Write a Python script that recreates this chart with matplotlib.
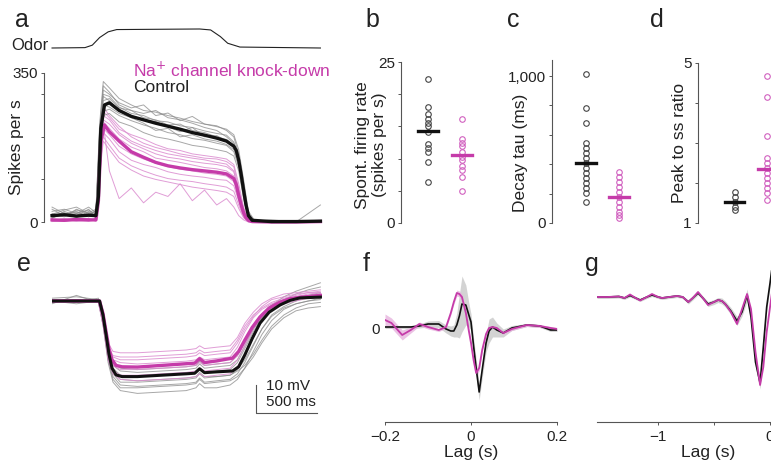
import matplotlib
matplotlib.use('Agg')
import matplotlib.pyplot as plt
import numpy as np

plt.rcParams['font.family'] = ['Liberation Sans', 'DejaVu Sans']

# ---------------- data ----------------
# panel a: odor command and firing rates (time in s)
t_odor = [0, 0.27, 0.33, 0.39, 0.46, 0.53, 1.21, 1.30, 1.38, 1.44, 1.54, 2.2]
odor = [0, 0.02, 0.15, 0.55, 0.85, 0.97, 1.0, 0.95, 0.6, 0.25, 0.05, 0]

t_rate_mean = [0, 0.1, 0.2, 0.3, 0.36, 0.38, 0.40, 0.43, 0.47, 0.55, 0.65, 0.75, 0.85,
               0.95, 1.05, 1.15, 1.25, 1.35, 1.43, 1.49, 1.51, 1.53, 1.55, 1.57, 1.59,
               1.61, 1.64, 1.8, 2.0, 2.2]
ctrl_rate_mean = [15, 17, 14, 16, 15, 60, 220, 275, 280, 262, 248, 240, 232,
                  225, 218, 210, 204, 197, 190, 178, 168, 145, 112, 75, 40,
                  15, 4, 1, 1, 2]
kd_rate_mean = [5, 4, 6, 5, 5, 50, 190, 228, 212, 190, 165, 152, 140,
                132, 127, 123, 120, 117, 113, 102, 88, 62, 40, 22, 10,
                4, 1, 0, 0, 1]

t_rate = [0, 0.1, 0.2, 0.3, 0.36, 0.39, 0.42, 0.47, 0.55, 0.65, 0.75, 0.85, 0.95,
          1.05, 1.15, 1.25, 1.35, 1.43, 1.49, 1.53, 1.57, 1.61, 1.66, 1.8, 2.0, 2.2]
ctrl_rate_traces = [
    [25, 30, 20, 35, 22, 230, 330, 315, 290, 275, 262, 258, 250, 244, 236, 230, 226, 215, 200, 160, 90, 20, 3, 2, 2, 0],
    [10, 18, 25, 12, 20, 200, 300, 295, 270, 255, 250, 238, 235, 226, 222, 214, 208, 204, 188, 150, 70, 10, 1, 0, 3, 0],
    [30, 15, 28, 22, 30, 180, 285, 290, 268, 262, 255, 262, 245, 240, 232, 222, 215, 200, 185, 145, 80, 18, 2, 5, 0, 0],
    [15, 22, 10, 25, 12, 210, 310, 300, 280, 268, 275, 250, 256, 238, 248, 230, 224, 218, 205, 170, 100, 25, 4, 0, 0, 0],
    [20, 12, 30, 18, 25, 170, 260, 265, 250, 238, 228, 220, 210, 205, 196, 192, 185, 180, 165, 130, 60, 10, 0, 2, 0, 0],
    [8, 25, 15, 30, 10, 190, 275, 270, 255, 245, 232, 215, 220, 200, 205, 195, 190, 182, 170, 140, 75, 12, 1, 0, 0, 40],
    [35, 20, 22, 15, 28, 220, 320, 305, 275, 262, 245, 240, 228, 230, 215, 210, 200, 194, 180, 150, 85, 15, 2, 3, 0, 0],
    [18, 28, 35, 20, 15, 160, 250, 255, 235, 225, 210, 200, 195, 188, 180, 176, 170, 165, 155, 120, 55, 8, 0, 0, 0, 0],
    [12, 16, 20, 28, 18, 205, 295, 285, 262, 250, 240, 236, 224, 212, 222, 200, 203, 190, 178, 152, 80, 14, 2, 0, 0, 0],
]
kd_rate_traces = [
    [2, 5, 3, 8, 4, 170, 270, 250, 225, 200, 185, 175, 168, 160, 155, 150, 148, 142, 130, 80, 30, 5, 0, 0, 0, 0],
    [5, 2, 6, 3, 7, 160, 250, 240, 210, 190, 178, 168, 160, 155, 150, 146, 140, 136, 120, 70, 25, 3, 0, 0, 0, 0],
    [3, 8, 4, 2, 5, 150, 235, 220, 195, 176, 165, 150, 145, 140, 134, 128, 125, 120, 108, 65, 22, 2, 0, 0, 0, 0],
    [6, 3, 5, 7, 2, 140, 220, 205, 178, 160, 148, 138, 130, 124, 120, 115, 112, 108, 95, 55, 18, 2, 0, 0, 0, 0],
    [1, 4, 7, 3, 6, 130, 210, 195, 165, 145, 135, 128, 118, 112, 108, 105, 100, 98, 85, 50, 15, 1, 0, 0, 0, 0],
    [4, 6, 2, 5, 3, 155, 240, 230, 205, 185, 172, 160, 152, 148, 142, 138, 135, 130, 118, 75, 30, 4, 0, 0, 0, 0],
    [2, 3, 5, 4, 8, 120, 200, 180, 150, 132, 120, 110, 102, 98, 95, 90, 86, 82, 72, 40, 12, 1, 0, 0, 0, 0],
    [5, 7, 3, 6, 4, 110, 190, 170, 140, 122, 108, 100, 94, 88, 82, 78, 74, 70, 60, 32, 10, 0, 0, 0, 0, 0],
    [3, 2, 4, 6, 3, 140, 230, 120, 55, 80, 45, 70, 60, 90, 50, 75, 40, 55, 35, 15, 5, 0, 0, 0, 0, 0],
    [4, 5, 2, 3, 6, 165, 260, 245, 218, 205, 195, 182, 172, 168, 160, 156, 152, 148, 135, 90, 35, 6, 0, 0, 0, 0],
]

# panels b-d: per-cell values
spont_ctrl = [22.3, 18.0, 16.9, 16.1, 15.6, 15.0, 14.2, 12.2, 11.7, 11.1, 9.5, 6.4]
spont_kd = [16.1, 13.0, 12.5, 11.9, 11.1, 10.3, 9.8, 8.8, 8.3, 7.2, 4.9]
spont_means = [14.3, 10.6]
tau_ctrl = [1014, 782, 680, 544, 510, 476, 442, 408, 374, 340, 306, 272, 238, 204, 143]
tau_kd = [347, 313, 279, 245, 211, 177, 143, 109, 75, 54, 34]
tau_means = [408, 177]
ratio_ctrl = [1.78, 1.65, 1.53, 1.40, 1.33]
ratio_kd = [4.68, 4.15, 3.18, 2.63, 2.50, 2.38, 2.25, 2.13, 2.00, 1.88, 1.75, 1.58]
ratio_means = [1.53, 2.35]

# panel e: membrane potential (mV, relative to baseline)
t_vm_mean = [0, 0.2, 0.39, 0.418, 0.443, 0.467, 0.492, 0.525, 0.574, 0.7, 0.9, 1.1, 1.17,
             1.21, 1.25, 1.35, 1.48, 1.53, 1.58, 1.64, 1.705, 1.78, 1.87, 1.95, 2.03, 2.2]
ctrl_vm_mean = [0, 0, 0, -5, -12, -19, -24, -26.4, -27, -27, -26.5, -26, -25.8,
                -24.2, -25.6, -25.3, -25, -23.5, -19.3, -13.5, -7.9, -4, -1.4, 0.2, 1.1, 1.4]
kd_vm_mean = [0, 0, 0, -4.5, -11, -17, -21, -23, -23.5, -23.6, -23, -22.4, -22.2,
              -20.6, -22, -21.4, -20.4, -18, -14, -9.5, -5.7, -2.5, -0.4, 0.8, 1.3, 2]

t_vm = [0, 0.2, 0.38, 0.42, 0.46, 0.5, 0.56, 0.7, 0.9, 1.1, 1.18, 1.21, 1.25,
        1.35, 1.46, 1.52, 1.58, 1.65, 1.72, 1.8, 1.9, 2.0, 2.1, 2.2]
ctrl_vm_traces = [
    [0, 0.5, 0, -9, -22, -29, -32, -33, -32.5, -32, -31, -29.5, -31, -31, -30, -28, -24, -18, -12, -7, -3, -1, 0, 0.5],
    [1, 1.5, 0.5, -7, -20, -27, -30, -30.5, -30, -29.5, -29, -27.5, -29, -28.5, -28, -26, -22, -16, -10, -5, -2, 0, 1.5, 2.5],
    [-0.5, 0, -0.5, -8, -19, -25, -28, -28.5, -28, -27.5, -27, -25.5, -27, -27, -26.5, -24.5, -21, -15.5, -10, -5.5, -2.5, -1, 0, 1],
    [0, -1, 0, -7, -18, -23, -25, -25.5, -25, -24.5, -24, -22.5, -24, -23.5, -23, -21, -16, -10, -5, -1.5, 1.5, 3.5, 5, 6.5],
    [0.5, 0, 0.5, -8, -20, -26, -29, -29, -28.5, -28, -27.5, -26, -27.5, -27, -26.5, -25, -23, -19, -14, -9, -5, -2.5, -1, -0.5],
    [-1, 2, -0.5, -6, -17, -22, -24, -24.5, -24, -23.5, -23, -21.5, -23, -22.5, -22, -19.5, -15, -10, -6, -3, -0.5, 1, 2, 3],
    [0, 0, 0, -9, -21, -28, -31, -31, -30.5, -30, -29.5, -28, -29.5, -29, -28.5, -27, -24, -20, -15, -10, -6, -3.5, -2.5, -2],
    [0.5, -0.5, 1, -7, -19, -24, -26.5, -27, -26.5, -26, -25.5, -24, -25.5, -25, -24.5, -22, -17, -11, -6, -2.5, 0.5, 2.5, 4, 5],
]
kd_vm_traces = [
    [0, 0, 0, -6, -15, -18, -18.5, -18.5, -18, -17.5, -17, -16, -17, -16.5, -16, -13, -8, -4, -1, 1, 2.5, 3, 3.5, 4],
    [0, 0.5, 0, -7, -17, -20, -21, -21, -20.5, -20, -19.5, -18.5, -19.5, -19, -18.5, -15, -10, -5.5, -2, 0.5, 1.5, 2.5, 3, 3],
    [0, -0.5, 0, -8, -19, -23, -24.5, -24.5, -24, -23.5, -23, -22, -23, -22.5, -22, -19.5, -15, -9, -4.5, -1.5, 0.5, 1.5, 2, 2.5],
    [0.5, 0, 0.5, -8, -20, -25, -26.5, -26.5, -26, -25.5, -25, -24, -25, -24.5, -24, -21, -16, -10, -5, -2, 0, 1, 1.5, 2],
    [0, 0, 0, -7, -17, -21, -22, -22.5, -22, -21.5, -21, -20, -21, -20.5, -20, -16.5, -11, -6, -3, -1, 0.5, 1.5, 2.5, 3],
    [0, 0, -0.5, -9, -21, -26, -28, -28.5, -28, -27.5, -27, -26, -27, -26.5, -26, -23.5, -19, -13, -7, -3, -1, 0, 1, 1.5],
    [0, 0.5, 0, -6, -16, -19.5, -20, -20, -19.5, -19, -18.5, -17.5, -18.5, -18, -17.5, -14, -9, -5, -2.5, -0.5, 1, 2, 3, 3.5],
]

# panel f: filters (arbitrary units) vs lag
lag_f = [-0.2, -0.185, -0.16, -0.14, -0.12, -0.1, -0.075, -0.058, -0.047, -0.04,
         -0.033, -0.027, -0.021, -0.012, -0.005, 0, 0.006, 0.012, 0.019, 0.026,
         0.035, 0.042, 0.05, 0.06, 0.075, 0.095, 0.13, 0.16, 0.185, 0.2]
ctrl_f = [0.1, 0.1, 0.1, 0.1, 0.2, 0.4, 0.4, -0.1, -0.3, -0.3,
          0.3, 1.2, 2.4, 2.3, 1.3, 0.6, -1.8, -4.0, -6.4, -4.2,
          -1.5, -0.3, 0.1, -0.2, -0.5, 0, 0.3, 0.2, -0.2, -0.2]
ctrl_f_sem = [0.15, 0.15, 0.15, 0.15, 0.2, 0.3, 0.35, 0.4, 0.5, 0.6,
              1.2, 2.2, 2.8, 2.0, 1.2, 0.8, 0.8, 0.9, 0.8, 0.8,
              0.9, 1.2, 1.0, 0.7, 0.4, 0.25, 0.15, 0.15, 0.15, 0.15]
kd_f = [0.8, 0.5, -0.7, -0.2, 0.4, 0.1, -0.2, 0.1, 1.5, 2.6,
        3.5, 3.4, 3.1, 1.5, -0.3, -1.5, -3.2, -4.5, -4.0, -2.2,
        -0.6, 0, 0.1, 0.0, -0.5, -0.1, 0.3, 0.2, 0, -0.1]
kd_f_sem = [0.6, 0.5, 0.5, 0.3, 0.2, 0.2, 0.15, 0.15, 0.2, 0.25,
            0.3, 0.3, 0.3, 0.3, 0.3, 0.3, 0.3, 0.3, 0.3, 0.2,
            0.2, 0.15, 0.15, 0.15, 0.15, 0.15, 0.15, 0.15, 0.15, 0.15]

# panel g
lag_g = [-1.545, -1.45, -1.35, -1.3, -1.25, -1.2, -1.16, -1.1, -1.054, -1.0,
         -0.964, -0.9, -0.83, -0.78, -0.73, -0.69, -0.643, -0.6, -0.554, -0.5,
         -0.464, -0.43, -0.4, -0.35, -0.295, -0.25, -0.205, -0.17, -0.13, -0.089,
         -0.06, -0.03, 0.0, 0.03, 0.06, 0.1, 0.2, 0.3, 0.45]
ctrl_g = [0, 0, 0.05, -0.1, 0.15, -0.1, -0.3, 0, 0.2, 0,
          -0.1, 0, 0.1, 0, -0.5, -0.1, 0.4, -0.1, -0.7, -0.5,
          -0.3, -0.4, -0.7, -1.4, -2.4, -1.5, 0.2, -2.0, -6.5, -8.6,
          -5, -1, 1.4, 4, 3, 1, 0, 0, 0]
ctrl_g_sem = [0.15, 0.15, 0.15, 0.15, 0.15, 0.15, 0.15, 0.15, 0.15, 0.15,
              0.15, 0.15, 0.15, 0.15, 0.2, 0.2, 0.2, 0.2, 0.25, 0.25,
              0.25, 0.3, 0.3, 0.35, 0.45, 0.4, 0.6, 0.4, 0.5, 0.6,
              0.5, 0.4, 0.4, 0.4, 0.3, 0.2, 0.2, 0.2, 0.2]
kd_g = [0, 0, 0.05, -0.1, 0.25, -0.1, -0.35, 0, 0.3, 0,
        -0.1, 0, 0.1, 0, -0.5, -0.1, 0.5, -0.1, -0.8, -0.5,
        -0.3, -0.4, -0.7, -1.5, -2.7, -1.2, 0.3, -1.2, -5.5, -8.8,
        -7, -3.5, -1.0, 1.5, 2.5, 1, 0, 0, 0]

# ---------------- style ----------------
MAG = '#C53BA9'
MAG_LIGHT = '#DB8CCF'
GRAY = '#8a8a8a'
TXT = '#222222'
SPINE = '#555555'
W, H = 771, 466

fig = plt.figure(figsize=(W / 100, H / 100), dpi=100)


def add_px(x0, y0, x1, y1):
    return fig.add_axes([x0 / W, 1 - y1 / H, (x1 - x0) / W, (y1 - y0) / H])


def left_axis(ax, ticks, labels, lo, hi):
    for s in ['top', 'right', 'bottom']:
        ax.spines[s].set_visible(False)
    ax.spines['left'].set_color(SPINE)
    ax.spines['left'].set_linewidth(0.8)
    ax.spines['left'].set_bounds(lo, hi)
    ax.set_yticks(ticks)
    ax.set_yticklabels(labels)
    ax.tick_params(axis='y', direction='out', length=2.5, width=0.7, color=SPINE,
                   labelsize=11, labelcolor=TXT, pad=2)
    ax.set_xticks([])
    ax.patch.set_alpha(0)


# ---- panel a: odor
ax_o = add_px(44, 25, 322, 50)
ax_o.plot(t_odor, odor, color='#222', lw=0.8)
ax_o.set_xlim(-0.066, 2.213)
ax_o.set_ylim(-0.105, 1.21)
ax_o.axis('off')
fig.text(49 / W, 1 - 46 / H, 'Odor', ha='right', va='center', fontsize=12, color=TXT)

# ---- panel a: rates
ax_a = add_px(44, 73, 322, 222)
for tr in kd_rate_traces:
    ax_a.plot(t_rate, tr, color=MAG_LIGHT, lw=0.7, alpha=0.85, clip_on=False)
for tr in ctrl_rate_traces:
    ax_a.plot(t_rate, tr, color=GRAY, lw=0.7, alpha=0.75, clip_on=False)
ax_a.plot(t_rate_mean, kd_rate_mean, color=MAG, lw=2.4, clip_on=False)
ax_a.plot(t_rate_mean, ctrl_rate_mean, color='#111', lw=2.4, clip_on=False)
ax_a.set_xlim(-0.066, 2.213)
ax_a.set_ylim(0, 350)
left_axis(ax_a, [0, 100, 200, 300, 350], ['0', '', '', '', '350'], 0, 350)
fig.text(17 / W, 1 - 147 / H, 'Spikes per s', rotation=90, ha='center', va='center',
         fontsize=12.5, color=TXT)
fig.text(133 / W, 1 - 70 / H, 'Na$^{+}$ channel knock-down', ha='left', va='center',
         fontsize=12.5, color=MAG)
fig.text(133 / W, 1 - 88 / H, 'Control', ha='left', va='center', fontsize=12.5, color=TXT)


def dot_panel(ax, ctrl, kd, means, halfw):
    ax.plot([1] * len(ctrl), ctrl, 'o', ms=4, mfc='none', mec='#444', mew=0.8, clip_on=False)
    ax.plot([2] * len(kd), kd, 'o', ms=4, mfc='none', mec='#D160BF', mew=0.8, clip_on=False)
    ax.plot([1 - halfw, 1 + halfw], [means[0]] * 2, color='#111', lw=2.4, clip_on=False)
    ax.plot([2 - halfw, 2 + halfw], [means[1]] * 2, color=MAG, lw=2.4, clip_on=False)


# ---- panel b
ax_b = add_px(401, 62, 480, 223)
dot_panel(ax_b, spont_ctrl, spont_kd, spont_means, 0.3)
ax_b.set_xlim(0.206, 2.53)
ax_b.set_ylim(0, 25)
left_axis(ax_b, [0, 5, 10, 15, 20, 25], ['0', '', '', '', '', '25'], 0, 25)
fig.text(371 / W, 1 - 145 / H, 'Spont. firing rate\n(spikes per s)', rotation=90,
         ha='center', va='center', fontsize=12.5, color=TXT, linespacing=1.1)

# ---- panel c
ax_c = add_px(552, 60, 640, 223)
dot_panel(ax_c, tau_ctrl, tau_kd, tau_means, 0.3)
ax_c.set_xlim(-0.03, 2.64)
ax_c.set_ylim(0, 1109)
left_axis(ax_c, [0, 200, 400, 600, 800, 1000], ['0', '', '', '', '', '1,000'], 0, 1109)
fig.text(520 / W, 1 - 153 / H, 'Decay tau (ms)', rotation=90, ha='center', va='center',
         fontsize=12.5, color=TXT)

# ---- panel d
ax_d = add_px(698, 63, 800, 223)
dot_panel(ax_d, ratio_ctrl, ratio_kd, ratio_means, 0.3)
ax_d.set_xlim(-0.12, 3.0)
ax_d.set_ylim(1, 5)
left_axis(ax_d, [1, 2, 3, 4, 5], ['1', '', '', '', '5'], 1, 5)
fig.text(680 / W, 1 - 143 / H, 'Peak to ss ratio', rotation=90, ha='center', va='center',
         fontsize=12.5, color=TXT)

# ---- panel e
ax_e = add_px(52, 270, 322, 420)
for tr in ctrl_vm_traces:
    ax_e.plot(t_vm, tr, color=GRAY, lw=0.7, alpha=0.75)
for tr in kd_vm_traces:
    ax_e.plot(t_vm, tr, color=MAG_LIGHT, lw=0.7, alpha=0.85)
ax_e.plot(t_vm_mean, kd_vm_mean, color=MAG, lw=2.4)
ax_e.plot(t_vm_mean, ctrl_vm_mean, color='#111', lw=2.2)
ax_e.plot([1.672, 1.672, 2.172], [-30, -40, -40], color=SPINE, lw=0.8)
ax_e.text(1.75, -30.5, '10 mV', ha='left', va='center', fontsize=11, color=TXT)
ax_e.text(1.75, -36.2, '500 ms', ha='left', va='center', fontsize=11, color=TXT)
ax_e.set_xlim(0, 2.213)
ax_e.set_ylim(-42.5, 11.07)
ax_e.axis('off')


def lag_axis(ax):
    for s in ['top', 'right', 'left']:
        ax.spines[s].set_visible(False)
    ax.spines['bottom'].set_color(SPINE)
    ax.spines['bottom'].set_linewidth(0.8)
    ax.tick_params(axis='x', which='both', direction='out', length=2.5, width=0.7,
                   color=SPINE, labelsize=11, labelcolor=TXT, pad=3)
    ax.set_xlabel('Lag (s)', fontsize=12.5, color=TXT, labelpad=1)
    ax.patch.set_alpha(0)


# ---- panel f
ax_f = add_px(385, 270, 557, 422)
ax_f.fill_between(lag_f, np.array(ctrl_f) - ctrl_f_sem, np.array(ctrl_f) + ctrl_f_sem,
                  color='#cfcfcf', lw=0, alpha=0.9)
ax_f.fill_between(lag_f, np.array(kd_f) - kd_f_sem, np.array(kd_f) + kd_f_sem,
                  color='#E6B3DE', lw=0, alpha=0.8)
ax_f.plot(lag_f, ctrl_f, color='#111', lw=1.2)
ax_f.plot(lag_f, kd_f, color=MAG, lw=1.3)
ax_f.set_xlim(-0.2, 0.2)
ax_f.set_ylim(-9.4, 5.8)
ax_f.set_xticks([-0.2, 0, 0.2])
ax_f.set_xticklabels(['\u22120.2', '0', '0.2'])
ax_f.set_yticks([0])
ax_f.tick_params(axis='y', length=0, labelsize=11, labelcolor=TXT, pad=4)
lag_axis(ax_f)

# ---- panel g
ax_g = add_px(597, 270, 820, 422)
ax_g.fill_between(lag_g, np.array(ctrl_g) - ctrl_g_sem, np.array(ctrl_g) + ctrl_g_sem,
                  color='#cfcfcf', lw=0, alpha=0.9)
ax_g.plot(lag_g, ctrl_g, color='#111', lw=1.2)
ax_g.plot(lag_g, kd_g, color=MAG, lw=1.3)
ax_g.set_xlim(-1.545, 0.446)
ax_g.set_ylim(-12.5, 2.7)
ax_g.set_xticks([-1, 0])
ax_g.set_xticklabels(['\u22121', '0'])
ax_g.set_xticks([-0.5], minor=True)
ax_g.set_yticks([])
lag_axis(ax_g)

# panel letters
for letter, x, y in [('a', 15, 27), ('b', 365, 27), ('c', 507, 27), ('d', 650, 27),
                     ('e', 17, 271), ('f', 363, 271), ('g', 585, 271)]:
    fig.text(x / W, 1 - y / H, letter, ha='left', va='baseline', fontsize=18, color=TXT)

fig.savefig('out.png', dpi=100)
